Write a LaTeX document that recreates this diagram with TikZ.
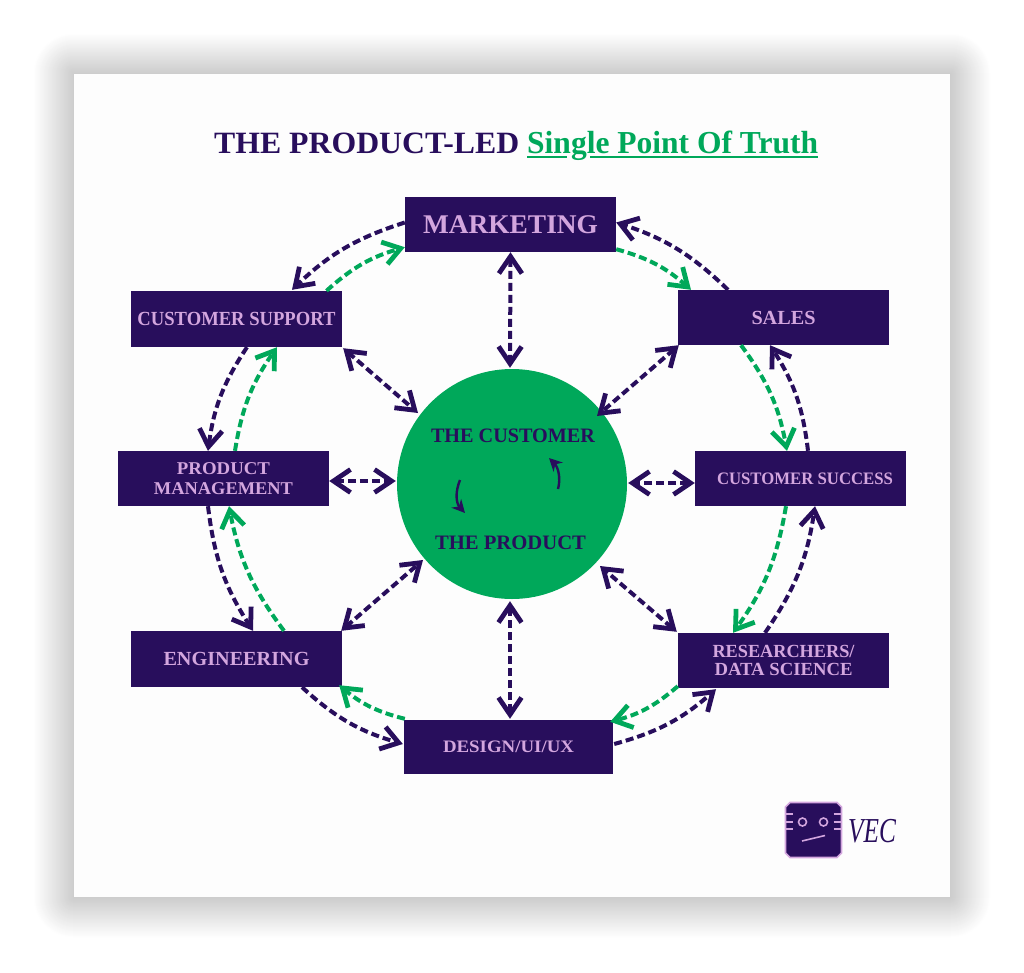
\documentclass[tikz,border=0pt]{standalone}
\usepackage{fontspec}
\usepackage{graphicx}
\setmainfont{Liberation Serif}
\usetikzlibrary{arrows.meta,calc}
\definecolor{navy}{HTML}{280E5C}
\definecolor{lilac}{HTML}{D3A6DE}
\definecolor{leaf}{HTML}{00A85A}
\newcommand{\fitw}[3]{\fontsize{#2}{#2}\selectfont\resizebox{#1pt}{\height}{#3}}
\tikzset{
  unitbox/.style={fill=navy,text=lilac,inner sep=0pt,minimum width=211pt,minimum height=55pt,font=\bfseries,align=center},
  hubtext/.style={text=navy,inner sep=0pt,font=\bfseries},
  link/.style={line width=4pt,dash pattern=on 8pt off 4pt},
  ring/.style={link,-{Straight Barb[length=17pt,width=23pt,line width=4.8pt]}},
  spoke/.style={link,color=navy,{Straight Barb[length=17pt,width=23pt,line width=4.8pt]}-{Straight Barb[length=17pt,width=23pt,line width=4.8pt]}},
  cw/.style={ring,color=leaf,bend left=13},
  ccw/.style={ring,color=navy,bend right=13},
  swirl/.style={color=navy,line width=2.4pt,-{Stealth[length=13pt,width=13pt]}},
  logoline/.style={draw=lilac,line width=1.6pt}
}
\begin{document}
\begin{tikzpicture}[x=1pt,y=-1pt]
\useasboundingbox (0,0) rectangle (1024,972);
\fill[white] (0,0) rectangle (1024,972);
% soft shadow of the sheet
\foreach \g in {40,39,...,1}{
  \pgfmathsetmacro{\tonelevel}{1-0.2*(1-\g/41)}
  \definecolor{tone}{gray}{\tonelevel}
  \fill[tone,rounded corners=\g pt] (74-\g,74-\g) rectangle (950+\g,897+\g);
}
\fill[white!99.3!black] (74,74) rectangle (950,897);
% title
\node[anchor=base west,inner sep=0pt,text=navy,font=\bfseries] (titleA) at (214,153) {\fitw{305}{31}{THE PRODUCT-LED}};
\node[anchor=base west,inner sep=0pt,text=leaf,font=\bfseries] (titleB) at (527,153) {\fitw{291}{32}{Single Point Of Truth}};
\draw[leaf,line width=2pt] ($(titleB.base west)+(0,3.5)$) -- +(40,0);
\draw[leaf,line width=2pt] ($(titleB.base west)+(63,3.5)$) -- ($(titleB.base east)+(0,3.5)$);
% hub
\node[circle,fill=leaf,inner sep=0pt,minimum size=230pt] (hub) at (512,484) {};
\node[hubtext] (hubA) at (513,436) {\fitw{164}{20.5}{THE CUSTOMER}};
\node[hubtext] (hubB) at (510.5,543) {\fitw{151}{20.5}{THE PRODUCT}};
% units
\node[unitbox] (mkt) at (510.5,224.5) {\fitw{175}{27}{MARKETING}};
\node[unitbox,minimum height=56pt] (cs) at (236.5,319) {\fitw{198}{20}{CUSTOMER SUPPORT}};
\node[unitbox] (sales) at (783.5,317.5) {\fitw{64}{20}{SALES}};
\node[unitbox] (pm) at (223.5,478.5) {\fitw{93}{18}{PRODUCT}\\[6.5pt]\fitw{139}{18}{MANAGEMENT}};
\node[unitbox] (succ) at (800.5,478.5) {\hspace{9pt}\fitw{176}{17.5}{CUSTOMER SUCCESS}};
\node[unitbox,minimum height=56pt] (eng) at (236.5,659) {\fitw{146}{20}{ENGINEERING}};
\node[unitbox] (res) at (783.5,660.5) {\fitw{142}{18.5}{RESEARCHERS/}\\[5pt]\fitw{138}{18.5}{DATA SCIENCE}};
\node[unitbox,minimum width=209pt,minimum height=54pt] (des) at (508.5,747) {\fitw{131}{17.5}{DESIGN/UI/UX}};
% ring
\draw[ccw] ($(mkt.west)+(0,-2)$) to ($(cs.north)+(55.5,-1)$);
\draw[cw]  ($(cs.north)+(90,0)$) to ($(mkt.south west)+(0,-5)$);
\draw[cw]  ($(mkt.south east)+(0,-3)$) to ($(sales.north)+(-92.5,0)$);
\draw[ccw] ($(sales.north)+(-55.5,0)$) to ($(mkt.east)+(0,-2)$);
\draw[cw]  ($(sales.south)+(-42.5,0)$) to ($(succ.north)+(-13.5,0)$);
\draw[ccw] ($(succ.north)+(7.5,0)$) to ($(sales.south)+(-13.5,0)$);
\draw[cw]  ($(succ.south)+(-14.5,0)$) to ($(res.north)+(-50.5,0)$);
\draw[ccw] ($(res.north)+(-18.5,0)$) to ($(succ.south)+(14.5,0)$);
\draw[cw]  ($(res.south west)+(0,-2)$) to ($(des.north east)+(-3,2)$);
\draw[ccw] ($(des.east)+(1,-3)$) to ($(res.south)+(-67.5,1)$);
\draw[cw]  ($(des.north west)+(1,-1)$) to ($(eng.south east)+(-3,-2)$);
\draw[ccw] ($(eng.south)+(65.5,0)$) to ($(des.west)+(-1,-3)$);
\draw[cw]  ($(eng.north)+(47.5,0)$) to ($(pm.south)+(5.5,0)$);
\draw[ccw] ($(pm.south)+(-15.5,0)$) to ($(eng.north)+(16.5,0)$);
\draw[cw]  ($(pm.north)+(11.5,0)$) to ($(cs.south)+(40.5,0)$);
\draw[ccw] ($(cs.south)+(10.5,0)$) to ($(pm.north)+(-15.5,0)$);
% spokes
\draw[spoke] (mkt.south) -- ($(hub.north)+(-2,-1)$);
\draw[spoke] ($(sales.south west)+(1,0)$) -- ($(hub.center)+(85,-68)$);
\draw[spoke] ($(succ.west)+(0,4.5)$) -- ($(hub.east)+(1,-1)$);
\draw[spoke] ($(res.north west)+(-1,-1)$) -- ($(hub.center)+(88,82)$);
\draw[spoke] ($(des.north)+(1.5,-1)$) -- ($(hub.south)+(-2,2)$);
\draw[spoke] ($(eng.north east)+(-1,0)$) -- ($(hub.center)+(-89,76)$);
\draw[spoke] ($(pm.east)+(0,2.5)$) -- ($(hub.west)+(-1,-3)$);
\draw[spoke] ($(cs.south east)+(1,1)$) -- ($(hub.center)+(-94,-71)$);
% inner swirl
\draw[swirl] (460,480) .. controls (455,492) and (456,503) .. (465,513);
\draw[swirl] (558,489) .. controls (561,478) and (558,467) .. (549,458);
% logo
\filldraw[fill=navy,logoline] (790,802.5) -- (837,802.5) -- (841.5,807) -- (841.5,853) -- (837,857.5) -- (790,857.5) -- (785.5,853) -- (785.5,807) -- cycle;
\foreach \py in {814,822,829}{
  \draw[logoline] (785.5,\py) -- (793,\py);
  \draw[logoline] (833.5,\py) -- (841.5,\py);
}
\draw[logoline] (802.5,822) circle (4pt);
\draw[logoline] (823.5,822) circle (4pt);
\draw[logoline] (802,841) -- (825,835.5);
\node[anchor=base west,inner sep=0pt,text=navy] (vec) at (848,842) {\fitw{48}{35}{\textit{VEC}}};
\end{tikzpicture}
\end{document}
